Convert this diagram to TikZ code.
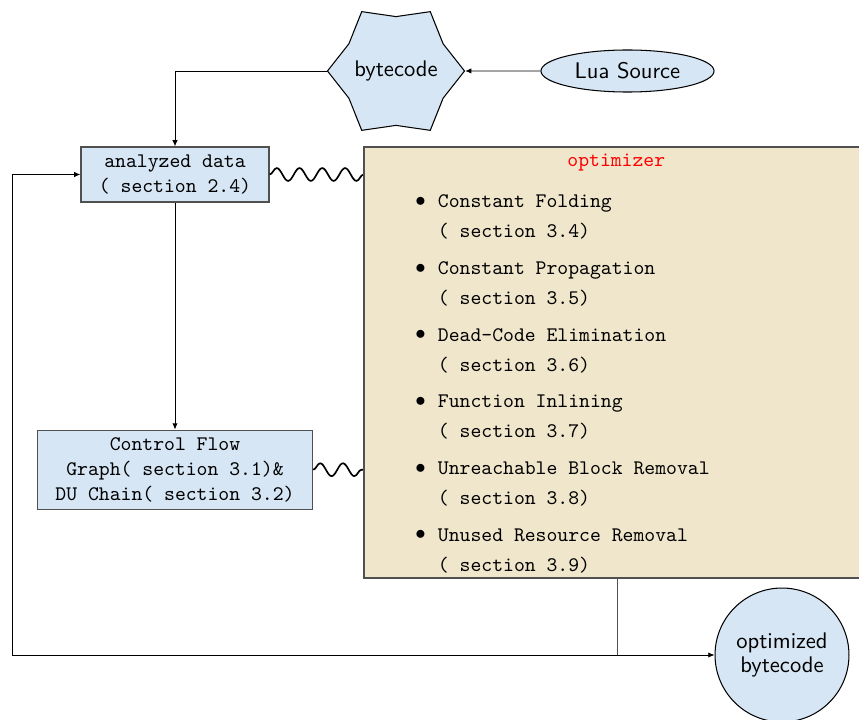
\documentclass[tikz,border=0pt]{standalone}
\usetikzlibrary{shapes.geometric,arrows.meta,decorations.pathmorphing}
\definecolor{boxblue}{HTML}{D6E6F4}
\definecolor{boxbeige}{HTML}{F0E6CC}
\definecolor{edgegray}{HTML}{505050}
\begin{document}
\begin{tikzpicture}[x=0.483pt,y=-0.483pt,
  conn/.style={-{Latex[length=3pt,width=2.6pt]}, line width=0.42pt},
  plain/.style={line width=0.42pt},
  bluebox/.style={draw=edgegray, fill=boxblue, line width=0.6pt, align=center, font=\ttfamily, inner sep=0pt},
  wave/.style={decorate, decoration={snake, amplitude=3.1pt, segment length=11pt}, line width=0.8pt},
  sanslabel/.style={font=\sffamily\fontsize{10.9}{11.8}\selectfont, draw=black, fill=boxblue, line width=0.5pt, inner sep=0pt},
  listtext/.style={anchor=base west, font=\ttfamily, inner sep=0pt}]
\useasboundingbox (0,0) rectangle (859,720);
\node[star, star points=6, star point ratio=1.26, shape border rotate=90, minimum size=66.2pt, sanslabel] (bc) at (396,71) {\makebox[0pt]{bytecode}};
\node[ellipse, sanslabel, minimum width=83.6pt, minimum height=20.3pt] (lua) at (627.5,71) {Lua Source};
\node[bluebox, minimum width=90.8pt, minimum height=26.6pt] (analyzed) at (175,174.5) {analyzed data\\( section 2.4)};
\node[bluebox, minimum width=132.8pt, minimum height=38.2pt] (cfg) at (175,469.7) {Control Flow\\Graph( section 3.1)\&\\DU Chain( section 3.2)};
\draw[wave] (analyzed.east) -- (analyzed.east -| 365,0);
\draw[wave] (cfg.east) -- (cfg.east -| 365,0);
\node[draw=edgegray, fill=boxbeige, line width=0.6pt, minimum width=244.4pt, minimum height=208.2pt, inner sep=0pt] (opt) at (617,362.5) {};
\node[anchor=base, font=\ttfamily, text=red, inner sep=0pt] (title) at (616.3,167) {optimizer};
\foreach \i/\a/\b in {0/Constant Folding/3.4, 1/Constant Propagation/3.5, 2/Dead-Code Elimination/3.6, 3/Function Inlining/3.7, 4/Unreachable Block Removal/3.8, 5/Unused Resource Removal/3.9}
{
  \node[listtext] (l\i a) at (437.5,{208+66.6*\i}) {\a};
  \node[listtext] (l\i b) at (437.5,{238+66.6*\i}) {( section \b)};
  \node[inner sep=0pt] (bul\i) at (420.5,{202+66.6*\i}) {$\bullet$};
}
\node[circle, sanslabel, minimum size=64.7pt, align=center] (optimized) at (782,655) {optimized\\bytecode};
\draw[conn] (lua) -- (bc);
\draw[conn] (bc.west) -| (analyzed.north);
\draw[conn] (analyzed) -- (cfg);
\coordinate (junction) at (opt.south |- optimized.west);
\coordinate (loopcorner) at (12,655);
\draw[plain, draw=edgegray] (opt.south) -- (junction);
\draw[conn] (junction) -- (optimized.west);
\draw[conn] (junction) -- (loopcorner) |- (analyzed.west);
\end{tikzpicture}
\end{document}
